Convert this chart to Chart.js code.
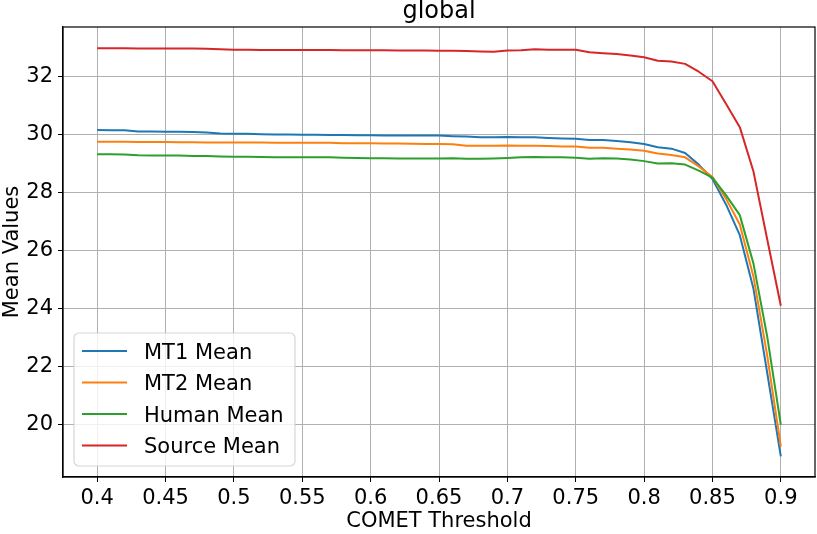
<!DOCTYPE html>
<html>
<head>
<meta charset="utf-8">
<script src="https://cdn.jsdelivr.net/npm/chart.js@4/dist/chart.umd.min.js"></script>
<style>
  html, body { margin: 0; padding: 0; background: #fff; }
  canvas { display: block; }
</style>
</head>
<body>
<canvas id="chart" width="817" height="534"></canvas>
<script>
// COMET thresholds (x) and the four mean series
const thresholds = [
  0.40, 0.41, 0.42, 0.43, 0.44, 0.45, 0.46, 0.47, 0.48, 0.49,
  0.50, 0.51, 0.52, 0.53, 0.54, 0.55, 0.56, 0.57, 0.58, 0.59,
  0.60, 0.61, 0.62, 0.63, 0.64, 0.65, 0.66, 0.67, 0.68, 0.69,
  0.70, 0.71, 0.72, 0.73, 0.74, 0.75, 0.76, 0.77, 0.78, 0.79,
  0.80, 0.81, 0.82, 0.83, 0.84, 0.85, 0.86, 0.87, 0.88, 0.89,
  0.90
];
const mt1Mean = [
  30.15, 30.14, 30.14, 30.10, 30.10, 30.09, 30.09, 30.08, 30.07, 30.03,
  30.02, 30.02, 30.01, 30.00, 30.00, 29.99, 29.99, 29.98, 29.98, 29.97,
  29.97, 29.96, 29.96, 29.96, 29.96, 29.96, 29.94, 29.93, 29.90, 29.90,
  29.91, 29.90, 29.90, 29.88, 29.86, 29.85, 29.81, 29.81, 29.77, 29.73,
  29.67, 29.56, 29.51, 29.36, 28.96, 28.46, 27.58, 26.53, 24.68, 21.80,
  18.91
];
const mt2Mean = [
  29.75, 29.75, 29.75, 29.74, 29.74, 29.74, 29.73, 29.73, 29.72, 29.72,
  29.72, 29.72, 29.72, 29.71, 29.71, 29.71, 29.71, 29.71, 29.70, 29.70,
  29.70, 29.69, 29.69, 29.68, 29.67, 29.67, 29.66, 29.61, 29.61, 29.61,
  29.62, 29.61, 29.61, 29.60, 29.58, 29.58, 29.54, 29.54, 29.51, 29.48,
  29.44, 29.34, 29.29, 29.21, 28.90, 28.53, 27.78, 26.90, 25.10, 22.40,
  19.25
];
const humanMean = [
  29.32, 29.32, 29.31, 29.28, 29.27, 29.27, 29.27, 29.26, 29.26, 29.24,
  29.23, 29.23, 29.22, 29.21, 29.21, 29.21, 29.21, 29.21, 29.20, 29.19,
  29.18, 29.18, 29.17, 29.17, 29.17, 29.17, 29.18, 29.16, 29.16, 29.17,
  29.19, 29.21, 29.22, 29.21, 29.21, 29.20, 29.16, 29.18, 29.17, 29.14,
  29.08, 29.00, 29.01, 28.96, 28.75, 28.51, 27.90, 27.22, 25.55, 23.05,
  20.00
];
const sourceMean = [
  32.97, 32.97, 32.97, 32.96, 32.96, 32.96, 32.96, 32.96, 32.95, 32.93,
  32.92, 32.92, 32.91, 32.91, 32.91, 32.91, 32.91, 32.91, 32.90, 32.90,
  32.90, 32.90, 32.89, 32.89, 32.89, 32.88, 32.88, 32.87, 32.86, 32.85,
  32.89, 32.90, 32.93, 32.92, 32.92, 32.92, 32.83, 32.80, 32.77, 32.72,
  32.66, 32.54, 32.51, 32.43, 32.16, 31.83, 31.05, 30.25, 28.72, 26.40,
  24.10
];

const xTicks = [0.4, 0.45, 0.5, 0.55, 0.6, 0.65, 0.7, 0.75, 0.8, 0.85, 0.9];
const xTickLabels = ['0.4', '0.45', '0.5', '0.55', '0.6', '0.65', '0.7', '0.75', '0.8', '0.85', '0.9'];
const yTicks = [20, 22, 24, 26, 28, 30, 32];

const seriesLabels = ['MT1 Mean', 'MT2 Mean', 'Human Mean', 'Source Mean'];
const seriesColors = ['#1f77b4', '#ff7f0e', '#2ca02c', '#d62728'];
const chartTitle = 'global';

const FONT = '"DejaVu Sans", "Liberation Sans", sans-serif';
Chart.defaults.font.family = FONT;
Chart.defaults.color = '#000';

const points = (ys) => thresholds.map((x, i) => ({ x, y: ys[i] }));

// matplotlib-ish extras: full box, title over the axes, legend in lower left
const axesDecor = {
  id: 'axesDecor',
  afterDraw(chart) {
    const { ctx, chartArea: a } = chart;
    ctx.save();

    ctx.strokeStyle = '#000';
    ctx.lineWidth = 1.2;
    ctx.strokeRect(a.left, a.top, a.right - a.left, a.bottom - a.top);

    ctx.fillStyle = '#000';
    ctx.font = '24px ' + FONT;
    ctx.textAlign = 'center';
    ctx.textBaseline = 'alphabetic';
    ctx.fillText(chartTitle, (a.left + a.right) / 2, a.top - 9);

    const bx = a.left + 11, bw = 221, bh = 133;
    const by = a.bottom - 11 - bh;
    ctx.beginPath();
    ctx.roundRect(bx, by, bw, bh, 5);
    ctx.fillStyle = 'rgba(255,255,255,0.8)';
    ctx.fill();
    ctx.strokeStyle = 'rgba(204,204,204,0.8)';
    ctx.lineWidth = 1.2;
    ctx.stroke();

    ctx.font = '21px ' + FONT;
    ctx.textAlign = 'left';
    chart.data.datasets.forEach((ds, i) => {
      const y = by + 18 + i * 31.5;
      ctx.beginPath();
      ctx.moveTo(bx + 8, y);
      ctx.lineTo(bx + 53, y);
      ctx.strokeStyle = ds.borderColor;
      ctx.lineWidth = 2;
      ctx.stroke();
      ctx.fillStyle = '#000';
      ctx.fillText(ds.label, bx + 70, y + 7.6);
    });
    ctx.restore();
  }
};

const seriesData = [mt1Mean, mt2Mean, humanMean, sourceMean];

new Chart(document.getElementById('chart'), {
  type: 'line',
  data: {
    datasets: seriesData.map((ys, i) => ({
      label: seriesLabels[i],
      data: points(ys),
      borderColor: seriesColors[i],
      backgroundColor: seriesColors[i],
      borderWidth: 2,
      pointRadius: 0,
      tension: 0,
      borderJoinStyle: 'round',
      order: seriesData.length - i
    }))
  },
  options: {
    responsive: false,
    animation: false,
    layout: { padding: { top: 27, right: 2, left: 0, bottom: 0 } },
    plugins: {
      legend: { display: false },
      tooltip: { enabled: false },
      title: { display: false }
    },
    scales: {
      x: {
        type: 'linear',
        min: 0.375,
        max: 0.925,
        afterBuildTicks: (scale) => { scale.ticks = xTicks.map(v => ({ value: v })); },
        afterFit: (scale) => { scale.height = 57; },
        ticks: {
          font: { size: 21 },
          padding: 4,
          maxRotation: 0,
          autoSkip: false,
          callback: (v, i) => xTickLabels[i]
        },
        grid: { color: '#b0b0b0', lineWidth: 1, tickLength: 5, tickColor: '#000' },
        border: { color: '#000', width: 1.2 },
        title: { display: true, text: 'COMET Threshold', font: { size: 21 }, padding: 0 }
      },
      y: {
        type: 'linear',
        min: 18.2,
        max: 33.7,
        afterBuildTicks: (scale) => { scale.ticks = yTicks.map(v => ({ value: v })); },
        afterFit: (scale) => { scale.width = 63; },
        ticks: {
          font: { size: 21 },
          padding: 5,
          callback: (v) => String(v)
        },
        grid: { color: '#b0b0b0', lineWidth: 1, tickLength: 5, tickColor: '#000' },
        border: { color: '#000', width: 1.2 },
        title: { display: true, text: 'Mean Values', font: { size: 21 }, padding: 0 }
      }
    }
  },
  plugins: [axesDecor]
});
</script>
</body>
</html>
